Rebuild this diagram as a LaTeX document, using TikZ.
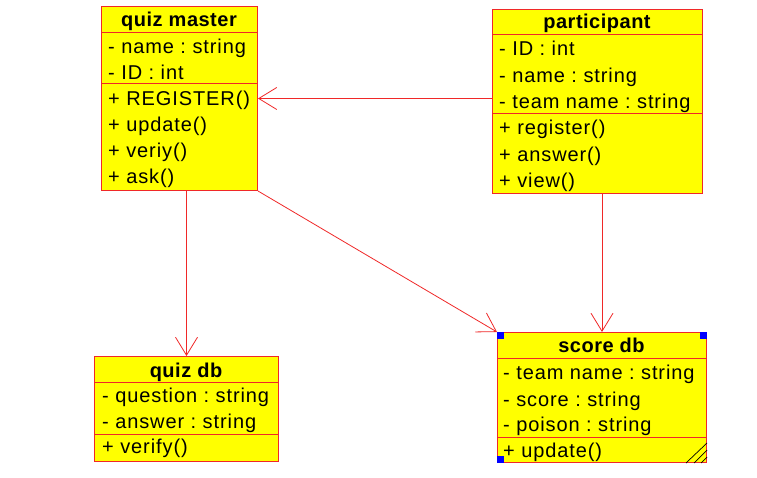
\documentclass[tikz,border=0pt]{standalone}
\usepackage{fontspec}
\setmainfont{Liberation Sans}[LetterSpace=4.5, BoldFeatures={LetterSpace=2.5}]
\usetikzlibrary{arrows.meta}
\frenchspacing
\definecolor{umlred}{RGB}{240,40,40}
\definecolor{umlyellow}{RGB}{255,255,0}
\definecolor{handle}{RGB}{0,0,255}
\tikzset{
  classbox/.style={draw=umlred, fill=umlyellow, line width=1pt, rectangle, inner sep=0pt, anchor=north west},
  divider/.style={draw=umlred, line width=1pt},
  member/.style={anchor=base west, inner sep=0pt, font=\fontsize{20pt}{24pt}\selectfont},
  title/.style={anchor=base, inner sep=0pt, font=\fontsize{20pt}{24pt}\selectfont\bfseries},
  assoc/.style={draw=umlred, line width=0.8pt, -{Straight Barb[length=18pt, width=22pt, line width=0.8pt]}},
  grip/.style={draw=black, line width=0.7pt},
  handlebox/.style={fill=handle, draw=none}
}
\begin{document}
\begin{tikzpicture}[x=1pt, y=-1pt]
\useasboundingbox (0,0) rectangle (757,478);
\fill[white] (0,0) rectangle (757,478);

% quiz master
\node[classbox, minimum width=156pt, minimum height=184pt] (qm) at (101,6) {};
\draw[divider] (qm.west |- 0,33) -- (qm.east |- 0,33);
\draw[divider] (qm.west |- 0,84) -- (qm.east |- 0,84);
\node[title] (qmt) at (179,27) {quiz master};
\node[member] (qma1) at (108,54) {- name : string};
\node[member] (qma2) at (108,80) {- ID : int};
\node[member] (qmo1) at (108,106) {+ REGISTER()};
\node[member] (qmo2) at (108,132) {+ update()};
\node[member] (qmo3) at (108,158) {+ veriy()};
\node[member] (qmo4) at (108,184) {+ ask()};

% participant
\node[classbox, minimum width=210pt, minimum height=184pt] (pt) at (492,9) {};
\draw[divider] (pt.west |- 0,35) -- (pt.east |- 0,35);
\draw[divider] (pt.west |- 0,114) -- (pt.east |- 0,114);
\node[title] (ptt) at (597,29) {participant};
\node[member] (pta1) at (499,56) {- ID : int};
\node[member] (pta2) at (499,83) {- name : string};
\node[member] (pta3) at (499,109) {- team name : string};
\node[member] (pto1) at (499,135) {+ register()};
\node[member] (pto2) at (499,162) {+ answer()};
\node[member] (pto3) at (499,188) {+ view()};

% quiz db
\node[classbox, minimum width=184pt, minimum height=105pt] (qdb) at (94,356) {};
\draw[divider] (qdb.west |- 0,382) -- (qdb.east |- 0,382);
\draw[divider] (qdb.west |- 0,434) -- (qdb.east |- 0,434);
\node[title] (qdbt) at (186,377) {quiz db};
\node[member] (qdba1) at (102,402) {- question : string};
\node[member] (qdba2) at (102,428) {- answer : string};
\node[member] (qdbo1) at (102,453) {+ verify()};

% score db
\node[classbox, minimum width=209pt, minimum height=130pt] (sdb) at (497,332) {};
\draw[divider] (sdb.west |- 0,358) -- (sdb.east |- 0,358);
\draw[divider] (sdb.west |- 0,437) -- (sdb.east |- 0,437);
\node[title] (sdbt) at (601.5,352) {score db};
\node[member] (sdba1) at (503,379) {- team name : string};
\node[member] (sdba2) at (503,406) {- score : string};
\node[member] (sdba3) at (503,431) {- poison : string};
\node[member] (sdbo1) at (503,457) {+ update()};
% selection handles and resize grip
\fill[handlebox] (sdb.north west) rectangle ++(7,7);
\fill[handlebox] (sdb.north east) rectangle ++(-7,7);
\fill[handlebox] (sdb.south west) rectangle ++(7,-7);
\draw[grip] ([xshift=-21pt]sdb.south east) -- ([yshift=20pt]sdb.south east);
\draw[grip] ([xshift=-13pt]sdb.south east) -- ([yshift=13pt]sdb.south east);
\draw[grip] ([xshift=-6pt]sdb.south east) -- ([yshift=6pt]sdb.south east);

% connectors
\draw[assoc] (pt.west |- qm.east) -- (qm.east);
\draw[assoc] (qm.south -| qdb.north) -- (qdb.north);
\draw[assoc] (qm.south east) -- (sdb.north west);
\draw[assoc] (pt.south -| sdb.north) -- (sdb.north);
\end{tikzpicture}
\end{document}
